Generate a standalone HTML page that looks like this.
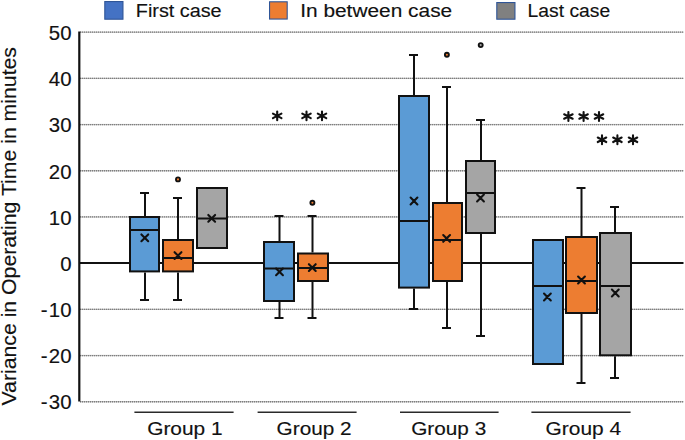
<!DOCTYPE html>
<html><head><meta charset="utf-8"><title>Box plot</title>
<style>
html,body{margin:0;padding:0;background:#fff;}
body{width:685px;height:440px;overflow:hidden;}
svg{display:block;}
text{font-family:"Liberation Sans",sans-serif;fill:#111;stroke:#111;stroke-width:0.15px;}
</style></head><body>
<svg width="685" height="440" viewBox="0 0 685 440">
<rect x="0" y="0" width="685" height="440" fill="#fff"/>

<rect x="80" y="31.53" width="603.6" height="1.3" fill="#b8b8b8"/>
<line x1="80" y1="32.18" x2="683.6" y2="32.18" stroke="#7e7e7e" stroke-width="1.3" stroke-dasharray="1 1"/>
<rect x="80" y="77.73" width="603.6" height="1.3" fill="#b8b8b8"/>
<line x1="80" y1="78.38" x2="683.6" y2="78.38" stroke="#7e7e7e" stroke-width="1.3" stroke-dasharray="1 1"/>
<rect x="80" y="123.92" width="603.6" height="1.3" fill="#b8b8b8"/>
<line x1="80" y1="124.57" x2="683.6" y2="124.57" stroke="#7e7e7e" stroke-width="1.3" stroke-dasharray="1 1"/>
<rect x="80" y="170.11" width="603.6" height="1.3" fill="#b8b8b8"/>
<line x1="80" y1="170.76" x2="683.6" y2="170.76" stroke="#7e7e7e" stroke-width="1.3" stroke-dasharray="1 1"/>
<rect x="80" y="216.31" width="603.6" height="1.3" fill="#b8b8b8"/>
<line x1="80" y1="216.96" x2="683.6" y2="216.96" stroke="#7e7e7e" stroke-width="1.3" stroke-dasharray="1 1"/>
<rect x="80" y="308.69" width="603.6" height="1.3" fill="#b8b8b8"/>
<line x1="80" y1="309.34" x2="683.6" y2="309.34" stroke="#7e7e7e" stroke-width="1.3" stroke-dasharray="1 1"/>
<rect x="80" y="354.89" width="603.6" height="1.3" fill="#b8b8b8"/>
<line x1="80" y1="355.54" x2="683.6" y2="355.54" stroke="#7e7e7e" stroke-width="1.3" stroke-dasharray="1 1"/>
<rect x="80" y="401.08" width="603.6" height="1.3" fill="#b8b8b8"/>
<line x1="80" y1="401.73" x2="683.6" y2="401.73" stroke="#7e7e7e" stroke-width="1.3" stroke-dasharray="1 1"/>
<line x1="80" y1="262.9" x2="683.5" y2="262.9" stroke="#111" stroke-width="2"/>
<line x1="79.3" y1="31.6" x2="79.3" y2="401.6" stroke="#111" stroke-width="2.2"/>
<g font-size="20.4" text-anchor="end">
<text x="71.5" y="39.9">50</text>
<text x="71.5" y="86.1">40</text>
<text x="71.5" y="132.3">30</text>
<text x="71.5" y="178.5">20</text>
<text x="71.5" y="224.7">10</text>
<text x="71.5" y="270.8">0</text>
<text x="71.5" y="317.0">-<tspan dx="1.3">10</tspan></text>
<text x="71.5" y="363.2">-<tspan dx="1.3">20</tspan></text>
<text x="71.5" y="409.4">-<tspan dx="1.3">30</tspan></text>
</g>
<text transform="translate(16,405.5) rotate(-90)" font-size="19.5" textLength="358.5" lengthAdjust="spacingAndGlyphs">Variance in Operating Time in minutes</text>
<line x1="145" y1="193" x2="145" y2="216" stroke="#111" stroke-width="2"/>
<line x1="140" y1="193" x2="149" y2="193" stroke="#111" stroke-width="2"/>
<line x1="145" y1="272.4" x2="145" y2="300" stroke="#111" stroke-width="2"/>
<line x1="140" y1="300" x2="149" y2="300" stroke="#111" stroke-width="2"/>
<rect x="130.0" y="217.0" width="29.0" height="54.39999999999998" fill="#5B9BD5" stroke="#111" stroke-width="2.0"/>
<line x1="130.0" y1="230" x2="159.0" y2="230" stroke="#111" stroke-width="2"/>
<path d="M141.4 234.4L148.20000000000002 241.20000000000002M141.4 241.20000000000002L148.20000000000002 234.4" stroke="#111" stroke-width="2.1" stroke-linecap="round"/>
<line x1="178" y1="198" x2="178" y2="239" stroke="#111" stroke-width="2"/>
<line x1="173" y1="198" x2="182" y2="198" stroke="#111" stroke-width="2"/>
<line x1="178" y1="272.4" x2="178" y2="300" stroke="#111" stroke-width="2"/>
<line x1="173" y1="300" x2="182" y2="300" stroke="#111" stroke-width="2"/>
<rect x="163.0" y="240.0" width="30.0" height="31.399999999999977" fill="#ED7D31" stroke="#111" stroke-width="2.0"/>
<line x1="163.0" y1="258" x2="193.0" y2="258" stroke="#111" stroke-width="2"/>
<path d="M174.6 252.2L181.4 259.0M174.6 259.0L181.4 252.2" stroke="#111" stroke-width="2.1" stroke-linecap="round"/>
<circle cx="178" cy="179.4" r="2.0" fill="#ED7D31" stroke="#111" stroke-width="1.9"/>
<rect x="197.0" y="188.0" width="30.0" height="60.0" fill="#A5A5A5" stroke="#111" stroke-width="2.0"/>
<line x1="197.0" y1="218.5" x2="227.0" y2="218.5" stroke="#111" stroke-width="2"/>
<path d="M208.29999999999998 214.9L215.1 221.70000000000002M208.29999999999998 221.70000000000002L215.1 214.9" stroke="#111" stroke-width="2.1" stroke-linecap="round"/>
<line x1="279.5" y1="216" x2="279.5" y2="241" stroke="#111" stroke-width="2"/>
<line x1="274.5" y1="216" x2="283.5" y2="216" stroke="#111" stroke-width="2"/>
<line x1="279.5" y1="302" x2="279.5" y2="318" stroke="#111" stroke-width="2"/>
<line x1="274.5" y1="318" x2="283.5" y2="318" stroke="#111" stroke-width="2"/>
<rect x="264.0" y="242.0" width="30.0" height="59.0" fill="#5B9BD5" stroke="#111" stroke-width="2.0"/>
<line x1="264.0" y1="268.5" x2="294.0" y2="268.5" stroke="#111" stroke-width="2"/>
<path d="M276.1 268.40000000000003L282.9 275.2M276.1 275.2L282.9 268.40000000000003" stroke="#111" stroke-width="2.1" stroke-linecap="round"/>
<line x1="312.5" y1="216" x2="312.5" y2="252.5" stroke="#111" stroke-width="2"/>
<line x1="307.5" y1="216" x2="316.5" y2="216" stroke="#111" stroke-width="2"/>
<line x1="312.5" y1="282" x2="312.5" y2="318" stroke="#111" stroke-width="2"/>
<line x1="307.5" y1="318" x2="316.5" y2="318" stroke="#111" stroke-width="2"/>
<rect x="298.0" y="253.5" width="30.0" height="27.5" fill="#ED7D31" stroke="#111" stroke-width="2.0"/>
<line x1="298.0" y1="268" x2="328.0" y2="268" stroke="#111" stroke-width="2"/>
<path d="M308.90000000000003 264.20000000000005L315.7 271.0M308.90000000000003 271.0L315.7 264.20000000000005" stroke="#111" stroke-width="2.1" stroke-linecap="round"/>
<circle cx="312.4" cy="202.8" r="2.0" fill="#ED7D31" stroke="#111" stroke-width="1.9"/>
<line x1="414" y1="55" x2="414" y2="95" stroke="#111" stroke-width="2"/>
<line x1="409" y1="55" x2="418" y2="55" stroke="#111" stroke-width="2"/>
<line x1="414" y1="288.6" x2="414" y2="309" stroke="#111" stroke-width="2"/>
<line x1="409" y1="309" x2="418" y2="309" stroke="#111" stroke-width="2"/>
<rect x="399.0" y="96.0" width="30.0" height="191.60000000000002" fill="#5B9BD5" stroke="#111" stroke-width="2.0"/>
<line x1="399.0" y1="221" x2="429.0" y2="221" stroke="#111" stroke-width="2"/>
<path d="M410.6 197.6L417.4 204.4M410.6 204.4L417.4 197.6" stroke="#111" stroke-width="2.1" stroke-linecap="round"/>
<line x1="447" y1="87" x2="447" y2="202" stroke="#111" stroke-width="2"/>
<line x1="442" y1="87" x2="451" y2="87" stroke="#111" stroke-width="2"/>
<line x1="447" y1="282" x2="447" y2="328" stroke="#111" stroke-width="2"/>
<line x1="442" y1="328" x2="451" y2="328" stroke="#111" stroke-width="2"/>
<rect x="433.0" y="203.0" width="29.0" height="78.0" fill="#ED7D31" stroke="#111" stroke-width="2.0"/>
<line x1="433.0" y1="240" x2="462.0" y2="240" stroke="#111" stroke-width="2"/>
<path d="M443.20000000000005 235.0L450.0 241.8M443.20000000000005 241.8L450.0 235.0" stroke="#111" stroke-width="2.1" stroke-linecap="round"/>
<circle cx="446.9" cy="54.8" r="2.0" fill="#ED7D31" stroke="#111" stroke-width="1.9"/>
<line x1="481" y1="120" x2="481" y2="160" stroke="#111" stroke-width="2"/>
<line x1="476" y1="120" x2="485" y2="120" stroke="#111" stroke-width="2"/>
<line x1="481" y1="234" x2="481" y2="336" stroke="#111" stroke-width="2"/>
<line x1="476" y1="336" x2="485" y2="336" stroke="#111" stroke-width="2"/>
<rect x="466.0" y="161.0" width="29.0" height="72.0" fill="#A5A5A5" stroke="#111" stroke-width="2.0"/>
<line x1="466.0" y1="193" x2="495.0" y2="193" stroke="#111" stroke-width="2"/>
<path d="M477.1 194.6L483.9 201.4M477.1 201.4L483.9 194.6" stroke="#111" stroke-width="2.1" stroke-linecap="round"/>
<circle cx="480.7" cy="45.1" r="2.0" fill="#A5A5A5" stroke="#111" stroke-width="1.9"/>
<rect x="533.0" y="240.0" width="30.0" height="124.0" fill="#5B9BD5" stroke="#111" stroke-width="2.0"/>
<line x1="533.0" y1="286" x2="563.0" y2="286" stroke="#111" stroke-width="2"/>
<path d="M544.0 293.6L550.8 300.4M544.0 300.4L550.8 293.6" stroke="#111" stroke-width="2.1" stroke-linecap="round"/>
<line x1="581.5" y1="188" x2="581.5" y2="236" stroke="#111" stroke-width="2"/>
<line x1="576.5" y1="188" x2="585.5" y2="188" stroke="#111" stroke-width="2"/>
<line x1="581.5" y1="314" x2="581.5" y2="383" stroke="#111" stroke-width="2"/>
<line x1="576.5" y1="383" x2="585.5" y2="383" stroke="#111" stroke-width="2"/>
<rect x="566.0" y="237.0" width="31.0" height="76.0" fill="#ED7D31" stroke="#111" stroke-width="2.0"/>
<line x1="566.0" y1="281" x2="597.0" y2="281" stroke="#111" stroke-width="2"/>
<path d="M578.1 276.6L584.9 283.4M578.1 283.4L584.9 276.6" stroke="#111" stroke-width="2.1" stroke-linecap="round"/>
<line x1="615" y1="207" x2="615" y2="232" stroke="#111" stroke-width="2"/>
<line x1="610" y1="207" x2="619" y2="207" stroke="#111" stroke-width="2"/>
<line x1="615" y1="356.3" x2="615" y2="378" stroke="#111" stroke-width="2"/>
<line x1="610" y1="378" x2="619" y2="378" stroke="#111" stroke-width="2"/>
<rect x="600.0" y="233.0" width="31.0" height="122.30000000000001" fill="#A5A5A5" stroke="#111" stroke-width="2.0"/>
<line x1="600.0" y1="286" x2="631.0" y2="286" stroke="#111" stroke-width="2"/>
<path d="M611.9 289.6L618.6999999999999 296.4M611.9 296.4L618.6999999999999 289.6" stroke="#111" stroke-width="2.1" stroke-linecap="round"/>
<path d="M277.20 111.50L277.20 120.30M272.96 113.65L281.44 118.15M272.96 118.15L281.44 113.65" stroke="#111" stroke-width="2.1" stroke-linecap="round"/>
<path d="M306.50 111.50L306.50 120.30M302.26 113.65L310.74 118.15M302.26 118.15L310.74 113.65" stroke="#111" stroke-width="2.1" stroke-linecap="round"/>
<path d="M322.00 111.50L322.00 120.30M317.76 113.65L326.24 118.15M317.76 118.15L326.24 113.65" stroke="#111" stroke-width="2.1" stroke-linecap="round"/>
<path d="M568.40 112.10L568.40 120.90M564.16 114.25L572.64 118.75M564.16 118.75L572.64 114.25" stroke="#111" stroke-width="2.1" stroke-linecap="round"/>
<path d="M583.60 112.10L583.60 120.90M579.36 114.25L587.84 118.75M579.36 118.75L587.84 114.25" stroke="#111" stroke-width="2.1" stroke-linecap="round"/>
<path d="M599.00 112.10L599.00 120.90M594.76 114.25L603.24 118.75M594.76 118.75L603.24 114.25" stroke="#111" stroke-width="2.1" stroke-linecap="round"/>
<path d="M602.00 135.40L602.00 144.20M597.76 137.55L606.24 142.05M597.76 142.05L606.24 137.55" stroke="#111" stroke-width="2.1" stroke-linecap="round"/>
<path d="M617.40 135.40L617.40 144.20M613.16 137.55L621.64 142.05M613.16 142.05L621.64 137.55" stroke="#111" stroke-width="2.1" stroke-linecap="round"/>
<path d="M633.00 135.40L633.00 144.20M628.76 137.55L637.24 142.05M628.76 142.05L637.24 137.55" stroke="#111" stroke-width="2.1" stroke-linecap="round"/>
<line x1="134.4" y1="412.3" x2="233.6" y2="412.3" stroke="#2a2a2a" stroke-width="1.4"/>
<line x1="257.6" y1="412.3" x2="356.6" y2="412.3" stroke="#2a2a2a" stroke-width="1.4"/>
<line x1="400" y1="412.3" x2="498.6" y2="412.3" stroke="#2a2a2a" stroke-width="1.4"/>
<line x1="531.4" y1="412.3" x2="630.6" y2="412.3" stroke="#2a2a2a" stroke-width="1.4"/>
<text x="147.2" y="434.6" font-size="19.1" textLength="75.4" lengthAdjust="spacingAndGlyphs">Group 1</text>
<text x="276.59999999999997" y="434.6" font-size="19.1" textLength="75.0" lengthAdjust="spacingAndGlyphs">Group 2</text>
<text x="411.2" y="434.6" font-size="19.1" textLength="75" lengthAdjust="spacingAndGlyphs">Group 3</text>
<text x="545.6" y="434.6" font-size="19.1" textLength="75.60000000000002" lengthAdjust="spacingAndGlyphs">Group 4</text>
<rect x="104.8" y="1.55" width="18.15" height="17.65" fill="#4472C4" stroke="#2F5597" stroke-width="1.1"/>
<rect x="269.55" y="1.8" width="17.65" height="17.25" fill="#ED7D31" stroke="#2F5597" stroke-width="1.1"/>
<rect x="496.8" y="2.55" width="18.15" height="16.65" fill="#808080" stroke="#2F5597" stroke-width="1.1"/>
<text x="135.79999999999998" y="16.6" font-size="19.1" textLength="85.80000000000001" lengthAdjust="spacingAndGlyphs">First case</text>
<text x="300.2" y="16.6" font-size="19.1" textLength="152" lengthAdjust="spacingAndGlyphs">In between case</text>
<text x="527.6" y="16.6" font-size="19.1" textLength="82.60000000000002" lengthAdjust="spacingAndGlyphs">Last case</text>
</svg>
</body></html>
